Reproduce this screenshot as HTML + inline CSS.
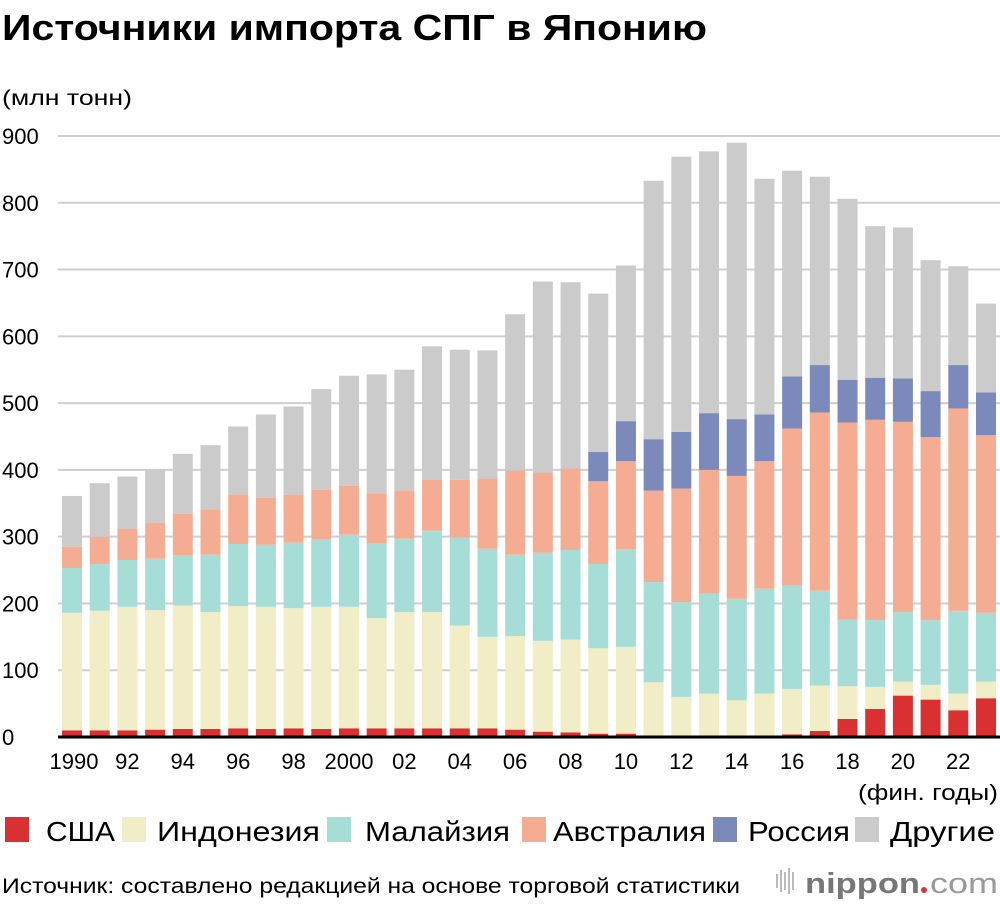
<!DOCTYPE html>
<html><head><meta charset="utf-8"><style>
html,body{margin:0;padding:0;background:#fff;}
svg{display:block;font-family:"Liberation Sans","Noto Sans CJK SC",sans-serif;}
</style></head><body>
<svg id="chart" width="1000" height="906" viewBox="0 0 1000 906">
<text x="2" y="40" font-size="36" font-weight="bold" textLength="705" lengthAdjust="spacingAndGlyphs">Источники импорта СПГ в Японию</text>
<text x="2" y="105" font-size="21" textLength="130" lengthAdjust="spacingAndGlyphs">(млн тонн)</text>
<g id="grid"></g><g id="bars"></g><g id="xlabels"></g>
<line x1="58" y1="737" x2="1000" y2="737" stroke="#000" stroke-width="3"/>
<text x="998" y="800" font-size="22" text-anchor="end" textLength="140" lengthAdjust="spacingAndGlyphs">(фин. годы)</text>
<g id="legend"></g>
<text x="2" y="893" font-size="21" textLength="738" lengthAdjust="spacingAndGlyphs">Источник: составлено редакцией на основе торговой статистики</text>
<g>
<rect x="776" y="874" width="2" height="14" fill="#bbb"/><rect x="780" y="870" width="2" height="22" fill="#bbb"/><rect x="784" y="872" width="2" height="18" fill="#bbb"/><rect x="788" y="868" width="2" height="26" fill="#bbb"/><rect x="792" y="872" width="2" height="18" fill="#bbb"/>
<text x="805" y="893" font-size="29" font-weight="bold" fill="#777" textLength="115" lengthAdjust="spacingAndGlyphs">nippon</text>
<circle cx="924" cy="890" r="3" fill="#e03030"/>
<text x="930" y="893" font-size="29" fill="#999" textLength="68" lengthAdjust="spacingAndGlyphs">com</text>
</g>
</svg>
<script>
const years = [1990,1991,1992,1993,1994,1995,1996,1997,1998,1999,2000,2001,2002,2003,2004,2005,2006,2007,2008,2009,2010,2011,2012,2013,2014,2015,2016,2017,2018,2019,2020,2021,2022,2023];
const usa = [10,10,10,11,12,12,13,12,13,12,13,13,13,13,13,13,11,8,7,5,5,2,2,1,2,1,4,9,27,42,62,56,40,58];
const indonesia = [176,179,185,179,185,175,183,183,180,183,182,165,174,174,154,137,140,136,139,128,130,80,58,64,53,64,68,68,49,33,21,22,25,25];
const malaysia = [67,70,70,77,75,86,93,93,98,101,108,112,110,122,132,132,122,132,134,126,146,150,142,150,152,157,155,142,100,100,104,97,124,103];
const australia = [32,41,47,54,62,68,74,70,72,74,73,75,72,77,86,105,126,120,122,124,132,137,170,185,184,191,235,267,295,300,285,274,303,266];
const russia = [0,0,0,0,0,0,0,0,0,0,0,0,0,0,0,0,0,0,0,44,60,77,85,85,85,70,78,71,64,63,65,69,65,64];
const others = [76,80,78,79,90,96,102,125,132,151,165,178,181,199,195,192,234,286,279,237,233,387,412,392,414,353,308,282,271,227,226,196,148,133];
const yTicks = [0,100,200,300,400,500,600,700,800,900];
const xTickLabels = ["1990","92","94","96","98","2000","02","04","06","08","10","12","14","16","18","20","22"];
const seriesNames = ["США","Индонезия","Малайзия","Австралия","Россия","Другие"];
const seriesKeys = ["usa","indonesia","malaysia","australia","russia","others"];
const colors = ["#d93132","#f1edc6","#a6ddd6","#f4ad93","#7b8aba","#cbcbcb"];
const series = [usa,indonesia,malaysia,australia,russia,others];

const NS="http://www.w3.org/2000/svg";
const y0=737, pxPerUnit=(737-136)/900;
const yScale=v=>y0-v*pxPerUnit;
const xStep=(986-72)/33, barW=20;
const xScale=i=>72+i*xStep;
function mk(tag,attrs,parent){const e=document.createElementNS(NS,tag);for(const k in attrs)e.setAttribute(k,attrs[k]);parent.appendChild(e);return e;}

const grid=document.getElementById('grid');
yTicks.forEach(t=>{
  if(t>0){const l=mk('line',{x1:58,x2:1000,y1:yScale(t),y2:yScale(t),stroke:'#cfcfcf','stroke-width':2},grid);
  
  }
  const tx=mk('text',{x:2,y:yScale(t)+8,'font-size':22},grid);
  tx.textContent=t;
  
  
});

const bars=document.getElementById('bars');
years.forEach((yr,i)=>{
  let cum=0;
  series.forEach((s,k)=>{
    const v=s[i]; if(v<=0){return;}
    const r=mk('rect',{x:xScale(i)-barW/2,y:yScale(cum+v),width:barW,height:v*pxPerUnit,fill:colors[k]},bars);
    
    
    cum+=v;
  });
});

const xl=document.getElementById('xlabels');
xTickLabels.forEach((lab,j)=>{
  const i=j*2;
  const t=mk('text',{x:xScale(i)+(j===0?2:0),y:769,'font-size':22,'text-anchor':'middle'},xl);
  t.textContent=lab;
  
  
});

const legend=document.getElementById('legend');
const legPos=[[5,46,69],[122,157,163],[327,365,145],[522,553,153],[713,748,102],[855,890,105]];
seriesNames.forEach((n,k)=>{
  const g=mk('g',{},legend);
  
  
  mk('rect',{x:legPos[k][0],y:817,width:24,height:25,fill:colors[k]},g);
  const t=mk('text',{x:legPos[k][1],y:841,'font-size':28,textLength:legPos[k][2],lengthAdjust:'spacingAndGlyphs'},g);
  t.textContent=n;
});
</script>
</body></html>
